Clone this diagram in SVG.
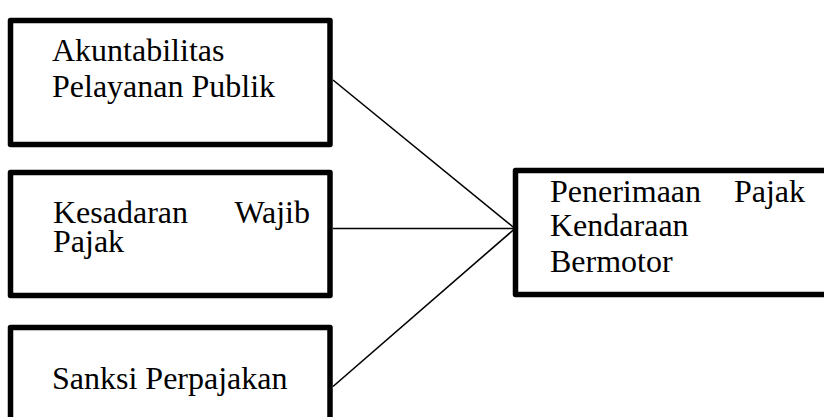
<svg xmlns="http://www.w3.org/2000/svg" width="824" height="417" viewBox="0 0 824 417">
<style>
.box{fill:#fff;stroke:#000;stroke-width:5.5;stroke-linejoin:round}
.t{font-family:"Liberation Serif","Times New Roman",serif;font-size:32px;fill:#000}
.c line{stroke:#000;stroke-width:1.6}
</style>
<rect width="824" height="417" fill="#fff"/>
<g id="node-akuntabilitas">
<rect class="box" x="10.5" y="20.5" width="319.5" height="124"/>
<text class="t" x="52" y="60.5">Akuntabilitas</text>
<text class="t" x="52" y="96.5">Pelayanan Publik</text>
</g>
<g id="node-kesadaran">
<rect class="box" x="10.5" y="172.5" width="319.5" height="123"/>
<text class="t" x="53" y="223">Kesadaran</text>
<text class="t" x="310" y="223" text-anchor="end">Wajib</text>
<text class="t" x="53" y="252">Pajak</text>
</g>
<g id="node-sanksi">
<rect class="box" x="10.5" y="327.5" width="319.5" height="120"/>
<text class="t" x="52" y="389">Sanksi Perpajakan</text>
</g>
<g id="node-penerimaan">
<rect class="box" x="515.5" y="170.5" width="340" height="124"/>
<text class="t" x="550" y="201.5">Penerimaan</text>
<text class="t" x="805" y="201.5" text-anchor="end">Pajak</text>
<text class="t" x="550" y="236">Kendaraan</text>
<text class="t" x="550" y="271.5">Bermotor</text>
</g>
<g id="connectors" class="c">
<line x1="333" y1="80" x2="515" y2="228.5"/>
<line x1="333" y1="228.5" x2="515" y2="228.5"/>
<line x1="333" y1="386.5" x2="515" y2="228.5"/>
</g>
</svg>
